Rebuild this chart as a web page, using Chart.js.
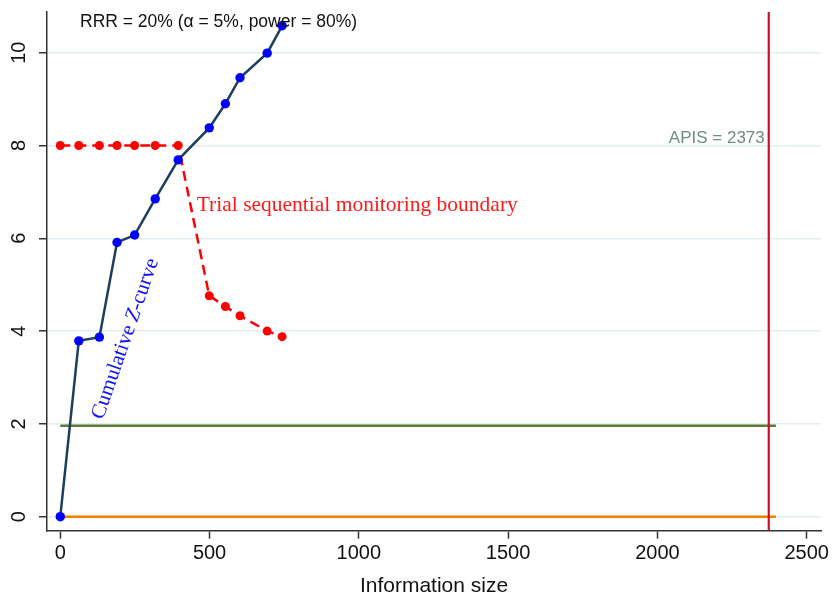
<!DOCTYPE html>
<html>
<head>
<meta charset="utf-8">
<title>Trial sequential analysis</title>
<script src="https://cdn.jsdelivr.net/npm/chart.js@4.4.1/dist/chart.umd.min.js"></script>
<style>
  html, body { margin: 0; padding: 0; background: #fff; }
  #wrap { width: 832px; height: 596px; position: relative; }
</style>
</head>
<body>
<div id="wrap"><canvas id="tsa"></canvas></div>
<script>
// values
const infoSize = [0, 62, 131, 190, 249, 318, 395, 499, 553, 602, 693, 743];
const zCurve   = [0, 3.79, 3.87, 5.91, 6.07, 6.85, 7.69, 8.38, 8.90, 9.46, 9.99, 10.58];
const boundary = [8, 8, 8, 8, 8, 8, 8, 4.76, 4.53, 4.33, 4.00, 3.88];

const xTicks = [0, 500, 1000, 1500, 2000, 2500];
const yTicks = [0, 2, 4, 6, 8, 10];

const apis = 2373;          // required information size
const conventionalZ = 1.96; // conventional boundary
const refLineEnd = 2397;    // horizontal lines stop here

const xMin = -44.5, xMax = 2548;
const yMin = -0.302, yMax = 10.877;

const sans = "'Liberation Sans', Arial, sans-serif";
const serif = "'Liberation Serif', 'Times New Roman', serif";

function pts(xs, ys) {
  return xs.map((v, i) => ({ x: v, y: ys[i] }));
}

// text drawn on top of the plot
const notes = {
  id: 'notes',
  afterDatasetsDraw(chart) {
    const { ctx, scales: { x, y } } = chart;
    ctx.save();
    ctx.textBaseline = 'alphabetic';

    ctx.fillStyle = '#111';
    ctx.font = '17.5px ' + sans;
    ctx.textAlign = 'left';
    ctx.fillText('RRR = 20% (\u03B1 = 5%, power = 80%)', x.getPixelForValue(66), y.getPixelForValue(10.55));

    ctx.fillStyle = '#6f8c82';
    ctx.font = '17px ' + sans;
    ctx.textAlign = 'right';
    ctx.fillText('APIS = ' + apis, x.getPixelForValue(apis) - 4, y.getPixelForValue(8.05));

    ctx.fillStyle = '#ff1a1a';
    ctx.font = '21.5px ' + serif;
    ctx.textAlign = 'left';
    ctx.fillText('Trial sequential monitoring boundary', x.getPixelForValue(457), y.getPixelForValue(6.59));

    // rotated label along the z-curve, with an italic Z
    ctx.translate(x.getPixelForValue(143), y.getPixelForValue(2.08));
    ctx.rotate(-70.8 * Math.PI / 180);
    ctx.fillStyle = '#1010ff';
    let cx = 0;
    const parts = [['Cumulative ', ''], ['Z', 'italic '], ['-curve', '']];
    parts.forEach(([t, st]) => {
      ctx.font = st + '21px ' + serif;
      ctx.fillText(t, cx, 0);
      cx += ctx.measureText(t).width;
    });
    ctx.restore();
  }
};

new Chart(document.getElementById('tsa'), {
  type: 'scatter',
  data: {
    datasets: [
      {
        data: pts(infoSize, zCurve),
        showLine: true,
        borderColor: '#1c3f60',
        borderWidth: 2.5,
        pointRadius: 4.7,
        pointBackgroundColor: '#0000ff',
        pointBorderWidth: 0
      },
      {
        data: pts(infoSize, boundary),
        showLine: true,
        borderColor: '#ff0000',
        borderWidth: 2.5,
        borderDash: [10, 6],
        pointRadius: 4.5,
        pointBackgroundColor: '#ff0000',
        pointBorderWidth: 0
      },
      {
        data: [{ x: apis, y: yMin }, { x: apis, y: yMax }],
        showLine: true,
        borderColor: '#c8102e',
        borderWidth: 2.2,
        pointRadius: 0
      },
      {
        data: [{ x: 0, y: conventionalZ }, { x: refLineEnd, y: conventionalZ }],
        showLine: true,
        borderColor: '#5a7d3c',
        borderWidth: 2.5,
        pointRadius: 0
      },
      {
        data: [{ x: 0, y: 0 }, { x: refLineEnd, y: 0 }],
        showLine: true,
        borderColor: '#f08000',
        borderWidth: 2.5,
        pointRadius: 0
      }
    ]
  },
  options: {
    responsive: true,
    maintainAspectRatio: false,
    animation: false,
    layout: { padding: { top: 12, right: 11, left: 0, bottom: 0 } },
    plugins: { legend: { display: false }, tooltip: { enabled: false } },
    scales: {
      x: {
        type: 'linear',
        min: xMin,
        max: xMax,
        afterBuildTicks: s => { s.ticks = xTicks.map(v => ({ value: v })); },
        afterFit: s => { s.height = 65.3; s.paddingLeft = 0; s.paddingRight = 0; },
        border: { color: '#333', width: 1.5 },
        grid: { drawOnChartArea: false, drawTicks: true, tickLength: 8, tickColor: '#333', tickWidth: 1.5 },
        ticks: {
          color: '#111',
          font: { family: sans, size: 20 },
          padding: 3,
          maxRotation: 0,
          callback: v => String(v)
        },
        title: {
          display: true,
          text: 'Information size',
          color: '#111',
          font: { family: sans, size: 21, lineHeight: 0.92 },
          padding: 0
        }
      },
      y: {
        type: 'linear',
        min: yMin,
        max: yMax,
        afterBuildTicks: s => { s.ticks = yTicks.map(v => ({ value: v })); },
        afterFit: s => { s.width = 47; s.paddingTop = 0; s.paddingBottom = 0; },
        border: { color: '#333', width: 1.5 },
        grid: { color: '#e2edf1', lineWidth: 1.5, tickLength: 8, tickColor: '#333', tickWidth: 1.5 },
        ticks: {
          color: '#111',
          font: { family: sans, size: 20 },
          padding: 8,
          minRotation: 90,
          maxRotation: 90,
          crossAlign: 'center',
          callback: v => String(v)
        }
      }
    }
  },
  plugins: [notes]
});
</script>
</body>
</html>
